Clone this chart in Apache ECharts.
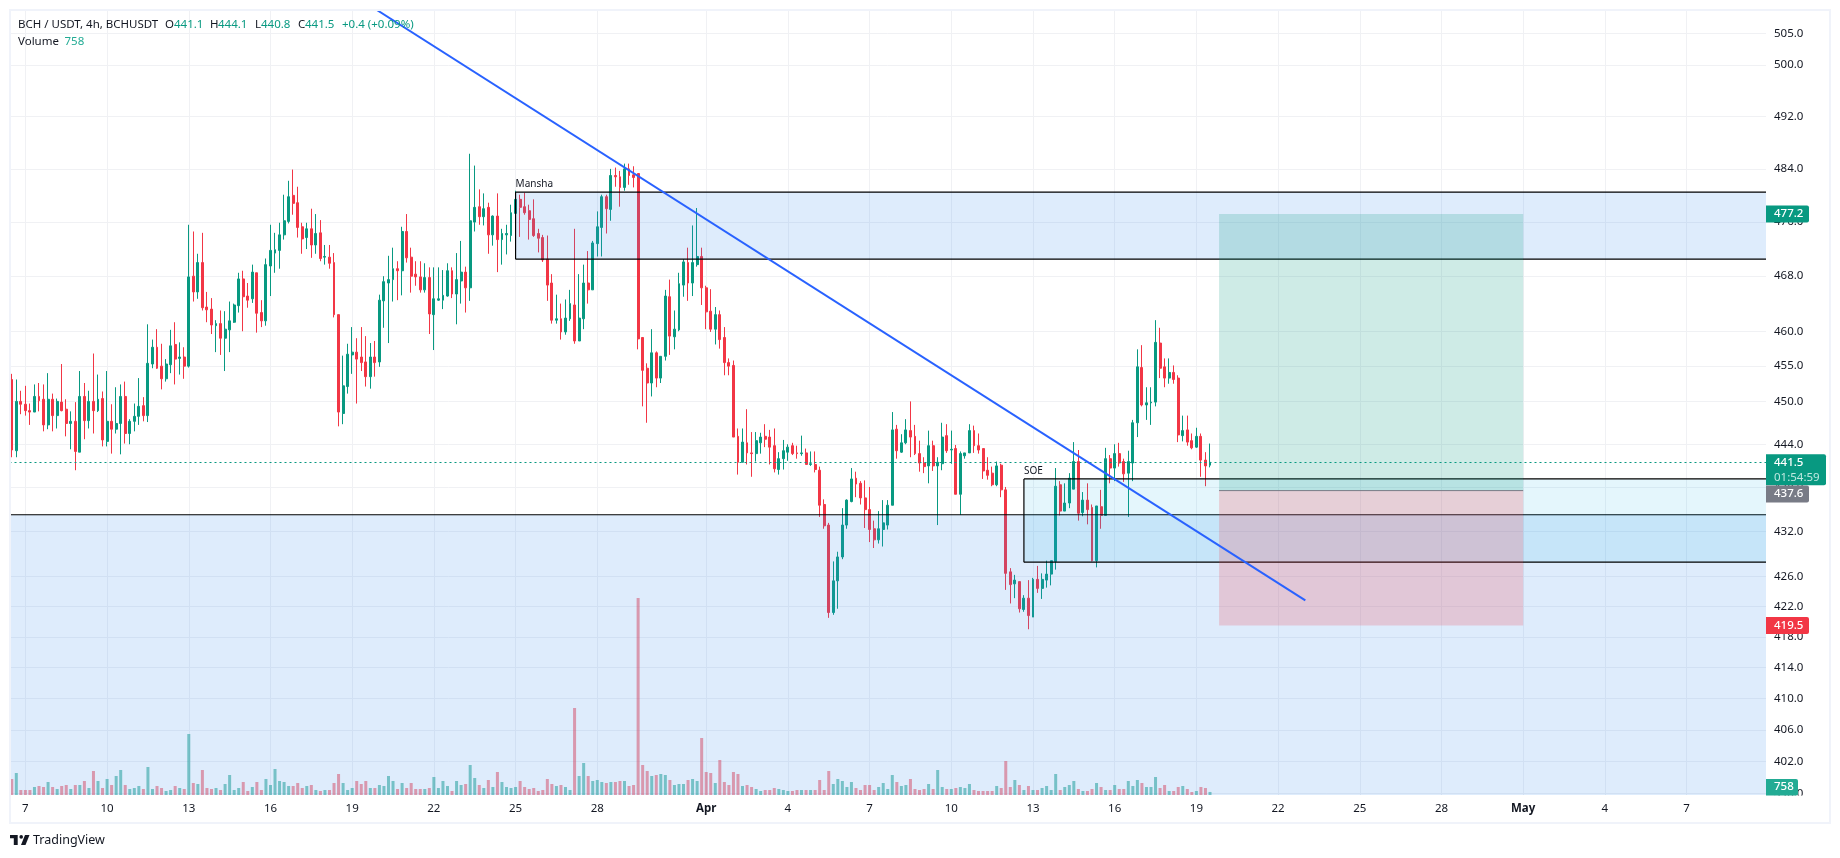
<!DOCTYPE html>
<html><head><meta charset="utf-8">
<style>html,body{margin:0;padding:0;background:#fff}#c{width:1840px;height:858px}</style>
<script src="https://cdn.jsdelivr.net/npm/echarts@6/dist/echarts.min.js"></script>
</head><body><div id="c"></div>
<script>
const opens=[453.1,443.1,450,449.6,448.7,448.5,450.7,450.3,446.7,450.3,
448,449.9,448.9,446.9,447.2,442.9,450.7,447.3,450,448.7,
450.4,444.4,447.2,446.1,446.9,450.7,445.5,447.2,447.9,449.4,
448,455.3,457.7,455,453.2,455.2,458.1,456.1,456.3,455,
468,465.7,470,463.5,463.2,460.8,461.1,459,460.2,461.3,
463.7,467.6,465.1,464.7,468.5,462.7,461.5,469.5,471.4,471.8,
474.1,476.1,480,478.9,475.3,473.7,475,472.6,474.4,470.8,
470.8,470,462.4,448.3,452.1,456.6,457,456.3,455.6,453.5,
456.3,455.6,464.4,467,467.5,469.1,468.8,474.6,470.8,468.3,
467.9,466,467.8,462.4,464.5,464.5,465.1,468.8,465.4,467.3,
468.6,466.3,476,478.3,476.8,478.2,474.1,476.9,473.4,474.1,
474,477.3,479.4,478.3,477.7,476.5,474.3,473.7,470.5,467,
461.6,461.8,459.9,461.8,463.8,458.6,461.8,467,466,472.8,
475.2,479.8,477.9,483,482.8,481.2,484,483.1,483.3,459.1,
454.7,452.6,456.9,453.3,456.4,465,459.2,460.2,466.7,470,
467,469.7,470.9,466.3,462.9,460.3,462.4,459.1,455.5,455.1,
445.1,441.5,444.2,442.8,442.7,444.2,445.1,445,443.8,440.5,
442,442.9,443.8,442.8,442.7,442.8,441.2,441.2,440.4,435.7,
432.9,421.2,425.4,428.6,432.9,436.1,439.3,438.6,436.6,435,
432.4,430.9,432.3,432.9,435.6,446.1,442.9,444.2,445.9,445.1,
442.7,441.4,441,443.8,441,441.3,445.2,443.2,443.4,437.1,
442.4,442.8,445.9,443.8,443.4,440.4,440,438.4,441.1,437.7,
426.6,425,425.3,421.6,423.1,420.6,425.6,424.4,425.5,426.3,
428,438.4,434.8,435.9,437.8,441.6,434.6,436.3,435.3,428.1,
435.4,434.2,442,440.7,442.7,441.6,440,441.4,447,454.8,
449.5,449.8,449.9,458.3,454.9,453.3,454.1,453.3,445.2,446,
444.5,443.6,445.1,441.8,441.1];
const highs=[453.9,453.1,451.5,452.2,449.7,452.4,452.6,452.4,454,451.1,
450.4,455.3,450.3,448.6,449.9,454.3,452.6,451.5,456.8,453.8,
451.4,454.3,449.6,452,452.4,452.8,447.5,449.7,453.3,450.6,
461,458.8,460.3,458.2,456,460.2,461.3,458.4,457.7,475.6,
474.6,471.3,474.4,465.7,464.8,461.6,463,462.9,464.3,464,
468.5,468.8,467,469.7,468.5,464.5,470.6,475.6,474.4,475.9,
480.1,482.2,483.9,481.3,475.9,475.9,478,477.2,476.3,472.6,
472.6,471.4,462.4,456.5,458.2,460.6,459,460.6,459.3,458.3,
458.6,465.3,468,471,472.2,470.2,475.3,477.2,472.2,470.2,
470.2,469.9,469.3,469.3,469.3,468.9,469.9,469.3,471.4,473.2,
469.4,486.3,484.5,480.9,480.3,478.9,477,480.3,475,475.6,
478.6,480.7,480.1,480.4,478.6,479.4,475,474.1,474,468.3,
465.3,464,464.6,466,475,468.3,469.7,471.7,473.2,477.6,
480.1,480.1,484,484.2,483.7,484.8,484.8,484.4,483.3,459.1,
455.4,460.3,457.1,456.4,466,467.5,463,468.5,470.5,472.2,
475.5,478.1,472.2,466.6,466.1,463.5,463,460.6,456.1,455.8,
446.2,446.2,448.9,445.7,445.7,445.6,446.8,446,446.2,442.9,
444.6,444,444.2,443.8,445.2,443.4,443,443,440.9,436.4,
433.2,428,429.3,435.2,436.4,440.7,440.2,438.9,439,438.1,
433.5,434.8,436.3,436.3,448.5,446.7,445.4,447.5,450,446.7,
444.5,442.2,445.9,444.5,442.2,447,446.8,445.9,443.9,443,
442.8,446.8,446.6,445.5,443.4,442.2,440.9,441.6,441.3,438.1,
427.1,426.2,425.3,423.5,425.5,425.8,427.4,426.4,428.1,428.1,
440.7,438.9,438.6,440,444.3,443.2,437.4,438.6,435.7,435.5,
437.7,443.5,442.5,444,444.2,442,443.1,447.4,457.4,458,
452,452,461.6,460.5,456.1,456.1,455.1,453.7,448,448,
445.5,446.3,445.5,442.9,444.1];
const lows=[442.2,442.2,448.2,448,446.7,448.5,448.6,445.8,446.1,445.8,
446.2,448.6,445.1,443.3,440.4,442.9,444.7,446.2,445.5,448.5,
443.7,443.7,442.7,445.5,442.6,444.1,444,445.8,446.7,447.2,
447.1,454.7,454.6,451.7,452.8,454,452.4,453.8,453.2,454.8,
464.3,464.7,463,461.3,459.6,457,456.6,454.3,457,461.2,
462.7,460,463.4,464.1,459.8,460.6,460.8,465.1,468.5,469.1,
473.4,475.8,477.1,473.7,471.3,472,470.7,471.3,470.2,469.7,
469.1,462,446.5,446.8,451.1,453.9,449.7,454.3,452.1,451.8,
453.5,454.9,460.5,458.3,464.3,464.5,465.2,470,465.6,466.6,
465.6,465.6,459.6,457.3,464.4,463.2,465,464.8,461,464,
462.7,464.4,474.6,475.6,475.5,471.3,472.5,468.6,469.7,471.2,
473.1,476.2,473.8,477.1,473.4,473.8,471.5,470.1,464.4,461.1,
461.1,458.8,459.5,461.5,458.2,458.6,460.3,464,466,470.9,
470.9,474.3,476.2,481.3,478.3,480.7,481.6,481.2,457.4,449.3,
447,450.7,452,452.6,455.8,456.6,457.4,460,465,464.4,
465.1,469.4,463.8,460.3,459.9,458.1,457.5,453.7,453.7,445,
439.8,441.5,441.2,439.5,441.6,442.7,443.6,441.2,440.1,439.8,
440.5,441.7,442.5,442,442.4,441.2,441,440.1,434,432.4,
420.5,420.9,421.7,428.3,432.4,436,436.7,435.7,432.5,430.6,
429.8,430.4,430,432.3,435.6,442,442.8,444,442.2,442.5,
440.2,440,438.6,440.3,432.9,440.4,442.8,441.3,437.1,434.3,
442,442.8,442.8,442.7,439.2,439.1,438.2,438.2,436.7,424.2,
422.4,423.1,421.2,421.3,419,420.6,423.8,423,424.5,424.8,
426.9,434.2,434.8,435.2,437.8,433.5,434.1,433,428,427.2,
432.4,434.2,438.6,438.9,440.9,438.8,434,438.9,445,449.3,
447.4,446.7,449.3,453.3,452,452.5,452.5,444.3,444.4,443.8,
443.3,443.5,439.5,438.2,440.8];
const closes=[443.2,450,449.6,448.7,448.5,450.7,450.1,446.7,450.3,448,
450,448.7,446.9,447.2,443,450.7,447.3,450,448.7,450.3,
444.6,447.2,446.1,446.9,450.7,445.5,447.2,447.9,449.3,448,
455.4,457.7,454.7,453.2,455.3,457.9,456,456.3,455,467.9,
465.7,470,463.4,463.1,460.9,461.1,459,460.3,461.5,463.8,
467.6,465,464.5,468.6,462.6,461.5,469.7,471.8,471.9,474.1,
476.2,479.8,478.8,475.2,473.5,475,472.6,474.3,470.6,470.9,
469.9,462.4,448.5,452.2,456.7,457,456,455.5,453.5,456.3,
455.5,464.5,467.2,467.5,469.1,468.8,474.6,470.7,468,467.9,
466,467.8,462.5,464.7,464.7,465.2,468.8,465.4,467.5,468.6,
466.3,476.2,478.2,476.8,478,474.1,476.9,473.4,474.3,474.3,
477.4,479.4,478.2,477.4,476.4,474,473.6,470.4,466.7,461.6,
461.8,459.9,461.9,464,458.6,461.9,467,466,472.9,475.3,
479.8,478,483,482.8,481.2,484,483,482.7,458.9,454.4,
452.6,456.9,453.3,456.4,465.1,459.3,460.3,466.9,470.1,467,
470,470.9,466.3,462.8,460.3,462.4,458.8,455.5,455,445,
441.5,444.3,442.8,442.7,444.5,445,444.7,443.6,440.6,442,
443.1,443.6,442.7,442.7,442.8,441.2,441.3,440.5,435.6,432.8,
421.2,425.4,428.6,432.9,436.3,439.2,438.5,436.6,435,432.3,
430.9,432.4,433.2,435.6,446,443.1,444.2,446,445,442.7,
441.4,440.9,443.8,441,441.5,445,443.1,443.3,437.1,442.7,
442.8,445.9,443.8,443.2,440.3,439.7,438.4,441,437.7,426.4,
424.9,425.5,421.7,423.1,420.8,425.6,424.4,425.6,426.3,428.1,
438.2,434.8,435.9,439.3,441.6,434.5,436.3,435,428.1,435.5,
434.2,442,440.7,442.7,441.4,439.9,441.6,447,454.9,449.5,
449.8,449.9,458.4,454.7,453.3,454.1,453.1,445.3,445.9,444.3,
443.5,445.1,441.8,441,441.5];
const volumes=[4000,5500,1250,1250,1250,2000,2250,2000,3250,2000,1500,2250,2500,1500,2500,2500,3500,1750,6000,3500,
1750,4000,2500,4750,6250,2500,1500,1750,2250,1500,7000,1500,2250,1750,1000,1250,2250,1750,1500,15250,
3000,2750,6250,1750,1500,1750,1250,2750,5000,1250,1750,3250,1000,2000,3250,1250,4000,2500,6500,3500,
3250,2250,2250,3000,1750,2250,2500,1250,1000,1250,1250,3000,5250,3000,1250,1750,3500,2750,3500,1750,
1750,2500,2250,4750,3500,1500,3000,1750,3000,1500,1500,1500,1750,4500,1750,3500,2250,1000,3500,2500,
2750,7500,4250,2500,1750,3750,2000,5750,3250,2000,1750,2000,3500,2000,1500,1750,1000,1250,4000,2750,
2250,2500,2000,1250,21750,4750,8000,4750,3500,3750,3250,3000,3250,3250,3500,3500,2250,2500,49250,7500,
6000,4750,5000,5250,5000,3750,2500,2750,2750,3750,4000,3500,14250,5750,5500,3000,8750,3250,2500,5750,
5250,2250,2500,2000,1500,1000,1250,1250,1750,1500,1250,1000,1000,1250,1250,1250,1250,1250,3750,1250,
6000,2750,4000,3500,2000,3250,1750,1250,2500,2500,1250,2000,3000,1500,5000,3250,2250,2500,4000,1500,
1250,1500,2750,1500,6250,2000,1500,1500,1750,2000,1750,2750,1250,1000,1000,1000,1000,2250,1750,8500,
2000,3750,2500,1250,2250,1250,1250,1750,2250,1250,5250,1250,2000,2500,3500,1500,1000,1000,1500,3000,
2000,1250,1250,2500,1500,1500,3500,2250,3750,3000,2000,2000,4500,1750,2500,1000,1000,2000,2250,1500,
750,1000,2000,1750,758];
if(![opens,highs,lows,closes,volumes].every(a=>a.length===265)) throw new Error('len '+[opens,highs,lows,closes,volumes].map(a=>a.length));

const priceTicks=[505,500,492,484,476,468,460,455,450,444,438,432,426,422,418,414,410,406,402,398];
const dayTickDates=['3-7','3-10','3-13','3-16','3-19','3-22','3-25','3-28','4-1','4-4','4-7','4-10','4-13','4-16','4-19','4-22','4-25','4-28','5-1','5-4','5-7'];
const dayTickLabels=['7','10','13','16','19','22','25','28','Apr','4','7','10','13','16','19','22','25','28','May','4','7'];

const lastPrice=441.5, targetPrice=477.2, entryPrice=437.6, stopPrice=419.5, lastVolume=758;
const positionStartIndex=266, positionEndIndex=333;
const zoneStarts=[0,111,223];
const zoneTops=[434.3,480.5,439.2];
const zoneBottoms=[390,470.5,427.9];
const zoneFills=['rgba(60,140,240,0.17)','rgba(60,140,240,0.17)','rgba(0,170,230,0.105)'];
const zoneNames=['','Mansha','SOE'];
const trendIndex=[80,285];
const trendPrice=[508.9,422.8];

// categories: one per 4h bar, first bar 6 March 12:00
const categories=[];
for(let i=0;i<387;i++){const d=new Date(Date.UTC(2026,2,6,12+4*i));categories.push((d.getUTCMonth()+1)+'-'+d.getUTCDate()+'-'+d.getUTCHours());}
const tickMap={};dayTickDates.forEach((d,k)=>tickMap[d+'-0']=dayTickLabels[k]);
const isTick=(i,name)=>tickMap[name]!==undefined;

const font='"Noto Sans",sans-serif', ink='#131722', up='#089981', down='#F23645', gridC='#F0F1F4';
const chart=echarts.init(document.getElementById('c'),null,{renderer:'canvas'});
const candleData=opens.map((o,i)=>[o,closes[i],lows[i],highs[i]]);
const volData=volumes.map((v,i)=>({value:v,itemStyle:{color:closes[i]>=opens[i]?'rgba(8,153,129,0.5)':'rgba(242,54,69,0.5)'}}));

const option={
 animation:false,backgroundColor:'#fff',
 grid:{left:9.5,top:10,width:1756.5,height:785,containLabel:false},
 xAxis:{type:'category',data:categories,boundaryGap:true,
  axisLine:{show:false},axisTick:{show:false},
  axisLabel:{interval:isTick,margin:8,color:ink,fontFamily:font,fontSize:11.5,
   formatter:(v)=>{const t=tickMap[v];return (t==='Apr'||t==='May')?'{b|'+t+'}':t;},
   rich:{b:{fontWeight:'bold',fontFamily:font,fontSize:11.5,color:ink}}},
  splitLine:{show:true,interval:isTick,alignWithLabel:true,lineStyle:{color:gridC,width:1}}},
 yAxis:[{type:'log',position:'right',min:397.8,max:508.7,scale:true,
   axisLine:{show:false},axisTick:{show:false,customValues:priceTicks},
   axisLabel:{customValues:priceTicks,margin:8,color:ink,fontFamily:font,fontSize:11.5,formatter:v=>Number(v).toFixed(1),showMinLabel:true,showMaxLabel:true},
   splitLine:{show:true,lineStyle:{color:gridC,width:1}}},
  {type:'value',show:false,min:0,max:196250,splitLine:{show:false}}],
 series:[
  {type:'bar',name:'Volume',yAxisIndex:1,data:volData,barWidth:3,z:1,silent:true},
  {type:'candlestick',name:'BCHUSDT',data:candleData,barWidth:2.4,z:2,silent:true,clip:true,
   itemStyle:{color:up,color0:down,borderColor:up,borderColor0:down,borderWidth:1},
   markLine:{silent:true,symbol:'none',label:{show:false},animation:false,
    lineStyle:{color:up,type:[2,3],width:1},data:[{yAxis:lastPrice}]}},
  {type:'custom',name:'zones',z:3,silent:true,data:zoneStarts.map((s,k)=>[s,zoneTops[k]]),
   encode:{x:0,y:1},
   renderItem:(p,api)=>{
    const k=p.dataIndex,cs=p.coordSys,rx=cs.x+cs.width,by=cs.y+cs.height;
    const x0=zoneStarts[k]===0?cs.x:api.coord([zoneStarts[k],zoneTops[k]])[0];
    const y0=api.coord([zoneStarts[k],zoneTops[k]])[1];
    const y1=Math.min(by,api.coord([zoneStarts[k],zoneBottoms[k]])[1]);
    const line={stroke:'#000',lineWidth:1.2};
    const ch=[{type:'rect',shape:{x:x0,y:y0,width:rx-x0,height:y1-y0},style:{fill:zoneFills[k]}},
     {type:'line',shape:{x1:x0,y1:y0,x2:rx,y2:y0},style:line}];
    if(y1<by) ch.push({type:'line',shape:{x1:x0,y1:y1,x2:rx,y2:y1},style:line});
    if(zoneStarts[k]!==0) ch.push({type:'line',shape:{x1:x0,y1:y0,x2:x0,y2:y1},style:line});
    if(zoneNames[k]) ch.push({type:'text',style:{x:x0,y:y0-3,text:zoneNames[k],fill:ink,font:'10px '+font,textAlign:'left',textVerticalAlign:'bottom'}});
    return {type:'group',children:ch};
   }},
  {type:'custom',name:'position',z:4,silent:true,data:[[positionStartIndex,entryPrice]],encode:{x:0,y:1},
   renderItem:(p,api)=>{
    const a=api.coord([positionStartIndex,targetPrice]),b=api.coord([positionEndIndex,entryPrice]),c=api.coord([positionStartIndex,stopPrice]);
    return {type:'group',children:[
     {type:'rect',shape:{x:a[0],y:a[1],width:b[0]-a[0],height:b[1]-a[1]},style:{fill:'rgba(8,153,129,0.2)'}},
     {type:'rect',shape:{x:a[0],y:b[1],width:b[0]-a[0],height:c[1]-b[1]},style:{fill:'rgba(242,54,69,0.2)'}},
     {type:'line',shape:{x1:a[0],y1:b[1],x2:b[0],y2:b[1]},style:{stroke:'#787B86',lineWidth:1}}]};
   }},
  {type:'line',name:'trend',z:5,silent:true,showSymbol:false,clip:true,data:trendIndex.map((t,k)=>[t,trendPrice[k]]),
   lineStyle:{color:'#2962FF',width:2}}
 ]
};
chart.setOption(option);

const headerParts=[['BCH / USDT, 4h, BCHUSDT',18,ink],['O',165,ink],['441.1',174,up],['H',210,ink],['444.1',218,up],['L',255,ink],['440.8',261,up],['C',298,ink],['441.5',305,up],['+0.4 (+0.09%)',342,up]];
const txt=(t,x,y,fill,size,weight)=>({type:'text',z:50,silent:true,style:{text:t,x:x,y:y,fill:fill,font:(weight||'normal')+' '+size+'px '+font,textVerticalAlign:'middle'}});
const py=v=>chart.convertToPixel({yAxisIndex:0},v);
const badge=(yTop,h,w,color)=>({type:'rect',z:40,silent:true,shape:{x:1766,y:yTop,width:w,height:h,r:[0,2,2,0]},style:{fill:color}});
const yT=py(targetPrice),yL=py(lastPrice),yE=py(entryPrice),yS=py(stopPrice);
const g=[
 {type:'rect',z:30,silent:true,shape:{x:1766,y:795.5,width:62,height:9},style:{fill:'#fff'}},
 {type:'rect',z:45,silent:true,shape:{x:10,y:10,width:1820,height:813},style:{fill:'none',stroke:'#F0F3FA',lineWidth:2}},
 badge(yT-8.5,17,43,up),txt(targetPrice.toFixed(1),1774,yT,'#fff',11.5,'500'),
 badge(yL-8,31,60,up),txt(lastPrice.toFixed(1),1774,yL,'#fff',11.5,'500'),txt('01:54:59',1774,yL+15,'#BFE8E0',11.5),
 badge(yE-5,17,43,'#787B86'),txt(entryPrice.toFixed(1),1774,yE+3.5,'#fff',11.5,'500'),
 badge(yS-8.5,17,43,down),txt(stopPrice.toFixed(1),1774,yS,'#fff',11.5,'500'),
 badge(779,16.5,32,'#22AB94'),txt(String(lastVolume),1774,787,'#fff',11.5,'500'),
 txt('Volume',18,41.5,ink,11.5),txt(String(lastVolume),64.5,41.5,'#22AB94',11.5),
 txt('TradingView',33,840,ink,12.5),
 {type:'polygon',z:50,silent:true,shape:{points:[[10,835],[17.7,835],[17.7,845],[13.8,845],[13.8,838.3],[10,838.3]]},style:{fill:ink}},
 {type:'polygon',z:50,silent:true,shape:{points:[[25,835],[29.5,835],[25.5,845],[21,845]]},style:{fill:ink}},
 {type:'circle',z:50,silent:true,shape:{cx:21.2,cy:836.9,r:1.8},style:{fill:ink}}
];
headerParts.forEach(h=>g.push(txt(h[0],h[1],25,h[2],11.5)));
chart.setOption({graphic:g});
</script></body></html>
